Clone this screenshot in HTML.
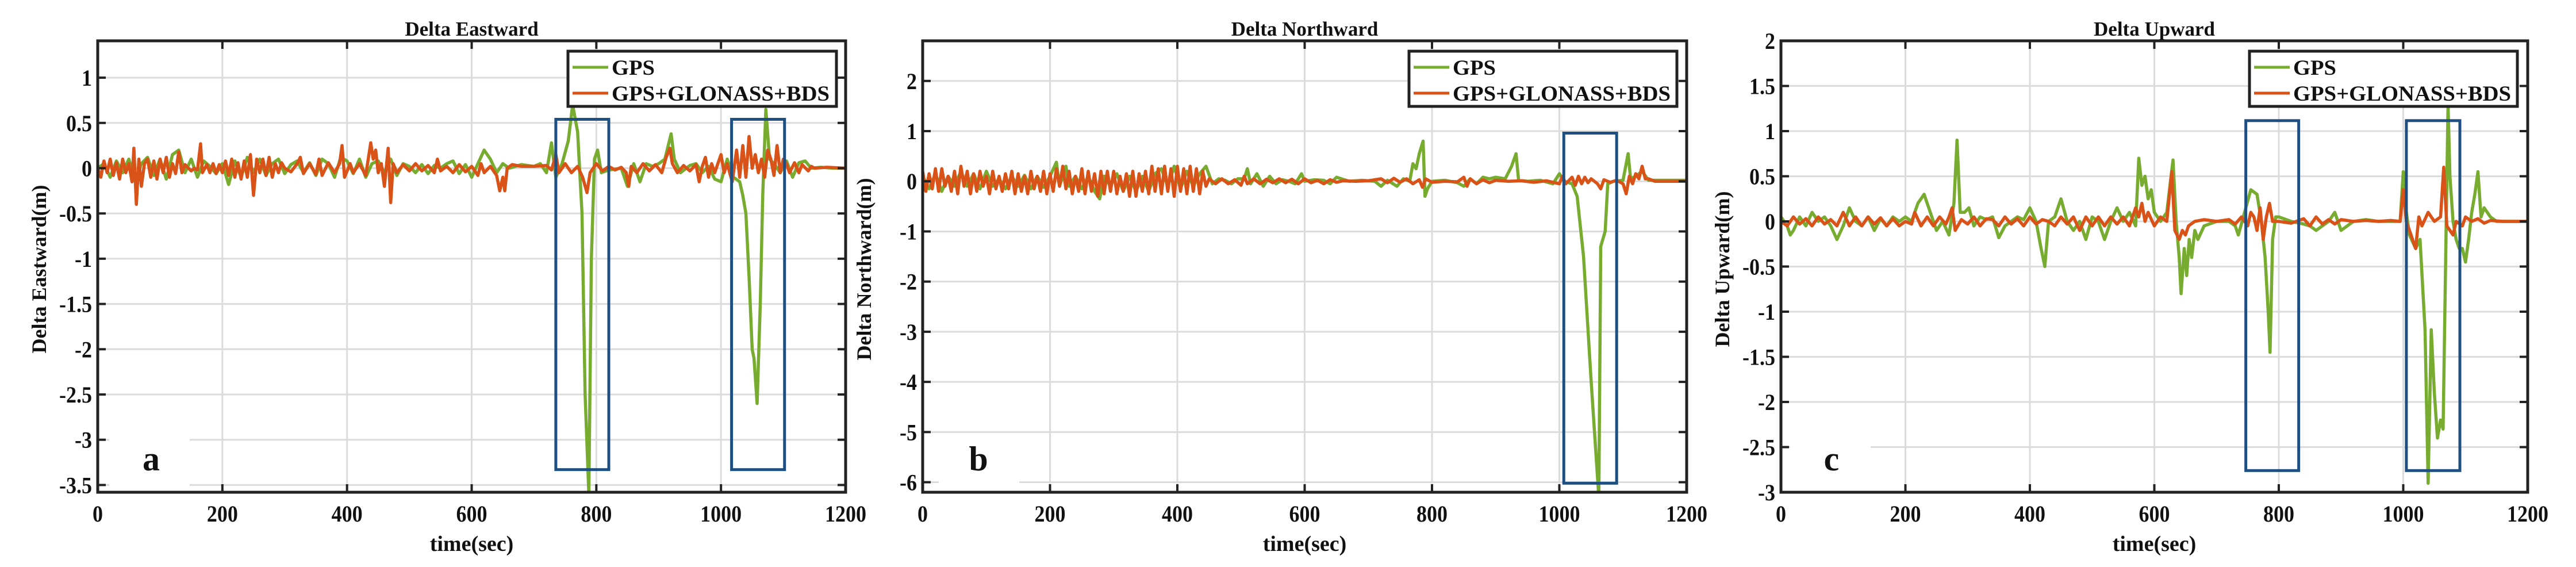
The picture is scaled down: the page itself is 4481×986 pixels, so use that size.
<!DOCTYPE html>
<html><head><meta charset="utf-8"><style>
html,body{margin:0;padding:0;background:#fff;}
svg{display:block;}
text{font-family:"Liberation Serif",serif;font-weight:bold;fill:#111;}
</style></head><body>
<svg id="fig" width="4481" height="986" viewBox="0 0 4481 986" xmlns="http://www.w3.org/2000/svg"></svg>
<script>
const xTicks=[0,200,400,600,800,1000,1200];
const yTicksA=[1,0.5,0,-0.5,-1,-1.5,-2,-2.5,-3,-3.5];
const yTicksB=[2,1,0,-1,-2,-3,-4,-5,-6];
const yTicksC=[2,1.5,1,0.5,0,-0.5,-1,-1.5,-2,-2.5,-3];
const seriesNames=["GPS","GPS+GLONASS+BDS"];

const gpsTA=[0,10,20,30,40,50,60,70,80,90,100,110,120,130,140,150,160,170,180,190,200,210,220,230,240,250,260,270,280,290,300,310,320,330,340,350,360,370,380,390,400,410,420,430,440,450,460,470,480,490,500,510,520,530,540,550,560,570,580,590,600,610,620,630,640,650,660,670,680,690,700,710,720,728,735,745,755,762,770,777,782,788,792,797,802,808,820,840,850,860,870,880,890,900,910,920,925,935,950,960,970,980,990,1000,1010,1020,1030,1035,1040,1045,1050,1053,1058,1063,1067,1072,1078,1085,1095,1105,1115,1125,1135,1145,1160,1180,1200];
const gpsVA=[0,0.05,-0.1,0.08,-0.05,0.1,-0.15,0.05,0.12,-0.08,0.1,-0.12,0.15,0.2,-0.05,0.1,-0.1,0.08,0.02,-0.06,0.05,-0.18,0.08,-0.1,0.12,-0.05,0.1,-0.08,0.05,0.1,-0.06,0.04,0.08,-0.05,0.06,-0.08,0.1,0.05,-0.1,0.12,0.08,-0.06,0.1,-0.1,0.05,0.08,-0.05,0.1,-0.08,0.05,0.02,-0.05,0.04,-0.06,0.03,0,0.05,0.08,-0.06,0.04,-0.1,0.05,0.2,0.1,-0.05,0.05,0,0.02,0.04,0.03,0.02,0.05,-0.05,0.28,-0.1,0.05,0.3,0.7,0.4,-0.5,-2.5,-3.6,-1.0,0.1,0.2,-0.05,-0.02,0,-0.2,0.05,-0.15,0.05,0.02,0.05,0.1,0.38,0.1,-0.05,0.03,0.05,-0.05,0.02,-0.12,-0.15,0.1,-0.1,-0.15,-0.3,-0.5,-1.2,-2.0,-2.1,-2.6,-1.5,-0.3,0.65,0.1,0.05,-0.05,0.08,-0.1,0.06,0.08,0,0.01,0,0];
const mixTA=[0,5,10,15,20,25,30,35,40,45,50,55,58,62,66,70,75,80,85,90,95,100,105,110,115,120,125,130,135,140,150,155,160,165,168,175,180,185,190,195,200,205,210,215,220,225,230,235,240,245,250,255,260,265,270,275,280,285,290,295,300,310,320,325,330,340,350,355,360,370,380,388,392,396,405,410,420,430,438,442,446,450,455,460,466,470,474,480,490,500,510,520,530,540,545,550,560,570,580,590,600,610,615,620,630,640,645,650,653,657,665,680,700,720,728,735,740,750,760,770,778,785,790,800,810,820,830,840,848,852,856,865,875,885,895,905,912,918,922,930,940,950,960,965,970,975,980,985,990,1000,1005,1010,1018,1025,1030,1035,1040,1045,1050,1055,1060,1065,1070,1075,1080,1085,1090,1095,1100,1105,1110,1118,1125,1130,1140,1145,1150,1170,1200];
const mixVA=[0,-0.1,0.08,-0.05,0.1,-0.08,0.06,-0.12,0.1,-0.05,0.05,-0.15,0.22,-0.4,0.1,-0.2,0.05,0.1,-0.1,0.08,-0.12,0.1,-0.05,0.12,-0.1,0.05,-0.06,0.18,-0.05,0.04,-0.03,0,-0.02,0.27,-0.05,0.04,-0.05,0.05,-0.06,0.04,-0.05,0.08,-0.08,0.1,-0.1,0.06,-0.12,0.08,-0.1,0.15,-0.3,0.1,-0.05,0.1,-0.08,0.12,-0.1,0.05,-0.05,0.06,0,-0.04,0.05,0.12,-0.06,0.05,-0.07,0.1,-0.08,0.06,-0.05,0.05,0.25,-0.1,0.05,-0.05,0.05,-0.08,0.28,0.1,0.2,-0.05,0.05,-0.2,0.22,-0.38,0.05,-0.05,0.04,-0.03,0.05,-0.03,0.03,-0.05,0.1,-0.03,0.02,-0.05,0.04,-0.04,0.02,-0.08,0.05,-0.05,0.02,-0.08,-0.25,-0.1,-0.25,0,0.04,0.02,0.02,0.03,-0.02,0.15,-0.05,0.05,-0.05,0.02,-0.1,-0.27,-0.05,0.05,-0.03,0.02,-0.02,0.01,-0.05,-0.2,0.02,-0.05,0.05,-0.03,0.04,-0.05,0.12,0.22,0.05,-0.05,0.03,-0.03,0.04,-0.15,0.02,0.12,-0.1,0.05,-0.05,0.15,-0.05,0.05,-0.15,0.2,-0.1,0.25,-0.1,0.35,0,0.15,-0.05,0.1,-0.1,0.2,0.1,-0.08,0.25,-0.05,0.1,0.05,-0.05,0.06,-0.05,0.04,-0.03,0.02,0,0.01,0];

const gpsTB=[0,10,20,30,40,50,60,70,80,90,100,110,120,130,140,150,160,170,180,190,200,210,215,225,230,240,250,260,270,278,285,295,305,315,325,335,345,355,365,375,385,395,405,415,425,435,445,455,465,475,485,495,505,510,515,525,535,545,555,565,575,585,595,600,615,630,640,650,670,690,710,720,730,745,755,765,770,775,780,786,789,793,800,820,840,850,860,870,880,890,900,915,925,932,936,950,970,990,1000,1008,1020,1028,1038,1050,1062,1065,1072,1076,1085,1100,1108,1112,1120,1130,1140,1160,1200];
const gpsVB=[0.1,-0.15,0.15,-0.2,0.1,-0.1,0.2,-0.1,0.15,-0.15,0.2,-0.1,0.05,-0.15,0.1,-0.1,0.12,-0.15,0.1,-0.12,0.1,0.38,-0.1,0.3,-0.1,0.1,-0.15,0.1,-0.2,-0.35,0.1,-0.1,0.15,-0.2,0.1,-0.2,0.1,-0.2,0.15,0.25,-0.1,0.3,-0.15,0.2,-0.1,0.15,0.3,-0.05,0.05,0.02,-0.05,0.05,0.05,0.25,-0.05,0.15,-0.1,0.1,-0.05,0.03,0,-0.05,0.15,0,0.03,0.02,-0.05,0.08,0,0.02,0,-0.1,0.02,-0.1,0.05,0,0.35,0.25,0.55,0.8,-0.3,-0.15,0,0.02,-0.03,-0.1,0.05,-0.05,0.08,0.05,0.08,0.05,0.3,0.55,0.02,0,0.02,-0.05,0.15,0,-0.05,-0.3,-1.5,-4.0,-6.3,-1.3,-1.0,-0.05,0,0.02,0.55,0.05,0.1,0.2,0.02,0.02,0.02];
const mixTB=[0,5,10,15,20,25,30,35,40,45,50,55,60,65,70,75,80,85,90,95,100,105,110,115,120,125,130,135,140,145,150,155,160,165,170,175,180,185,190,195,200,205,210,215,220,225,230,235,240,245,250,255,260,265,270,275,280,285,290,295,300,305,310,315,320,325,330,335,340,345,350,355,360,365,370,375,380,385,390,395,400,405,410,415,420,425,430,435,440,445,450,460,470,480,490,500,505,510,520,530,540,550,560,570,580,590,600,610,620,630,640,650,660,680,700,720,730,740,750,760,770,780,785,790,800,820,840,850,855,860,870,880,890,900,920,940,960,980,1000,1005,1010,1020,1025,1030,1035,1040,1045,1050,1060,1065,1070,1080,1090,1100,1105,1110,1115,1120,1125,1130,1135,1140,1150,1200];
const mixVB=[0.2,-0.2,0.15,-0.15,0.25,-0.2,0.25,-0.1,0.1,-0.2,0.2,-0.25,0.3,-0.1,0.2,-0.25,0.15,-0.2,0.2,-0.1,0.1,-0.25,0.2,-0.15,0.1,-0.2,0.15,-0.15,0.2,-0.25,0.15,-0.2,0.1,-0.25,0.2,-0.15,0.1,-0.2,0.2,-0.25,0.15,-0.2,0.25,-0.1,0.3,-0.15,0.2,-0.25,0.1,-0.2,0.25,-0.25,0.2,-0.2,0.15,-0.3,0.2,-0.25,0.2,-0.2,0.2,-0.25,0.1,-0.2,0.15,-0.3,0.2,-0.3,0.15,-0.2,0.2,-0.25,0.3,-0.2,0.25,-0.25,0.3,-0.2,0.25,-0.3,0.3,-0.2,0.25,-0.25,0.3,-0.2,0.25,-0.25,0.2,-0.1,0.05,-0.05,0.05,-0.05,0.03,-0.08,0.1,-0.05,0.05,-0.05,0.04,-0.03,0.05,-0.03,0.04,-0.05,0.05,-0.03,0.02,-0.05,0.03,-0.02,0.01,0,0.01,0.05,-0.03,0.06,-0.02,0.05,-0.05,0.03,-0.12,0.05,-0.02,0,-0.01,0.08,-0.1,0.05,-0.05,0.03,-0.03,0.02,0,0.01,-0.02,0.01,-0.05,0.1,-0.05,0.08,-0.08,0.1,-0.05,0.08,-0.03,0.05,-0.05,-0.15,0.03,-0.02,0.02,-0.05,-0.25,0.1,-0.05,0.15,0.05,0.3,0.05,0.05,0,0];

const gpsTC=[0,10,15,20,30,40,50,60,70,80,90,100,110,120,130,140,150,160,170,180,190,200,210,220,230,240,250,260,270,278,283,288,295,302,310,320,330,340,350,360,370,380,390,400,410,418,424,430,440,450,460,470,480,490,500,510,520,530,540,550,560,570,575,580,585,590,595,600,610,620,630,635,640,643,648,652,656,660,665,670,680,700,720,730,735,745,755,765,772,778,783,786,790,795,800,820,840,850,860,870,880,890,900,910,920,940,960,980,995,1000,1005,1010,1020,1027,1035,1040,1045,1050,1055,1060,1064,1068,1072,1075,1080,1085,1090,1095,1100,1105,1110,1115,1120,1125,1130,1140,1150,1200];
const gpsVC=[0.05,-0.05,-0.15,-0.1,0.05,-0.05,0.1,0,0.05,-0.05,-0.2,-0.05,0.15,0,-0.05,0.05,-0.1,0.03,-0.05,0.05,0,0.05,0,0.2,0.3,0.1,-0.1,0,-0.15,0.2,0.9,0.1,0.1,0.15,-0.05,0.05,0.02,0.05,-0.18,-0.05,0,0.05,0.02,0.15,0,-0.3,-0.5,0,0.05,0.25,0,-0.1,0,-0.2,0.05,0,-0.2,0,0.15,0,0.1,-0.05,0.7,0.4,0.5,0.25,0.35,0.1,0,0.1,0.68,0,-0.4,-0.8,-0.3,-0.6,-0.2,-0.4,-0.1,-0.2,-0.05,0,0,-0.05,-0.15,0.1,0.35,0.3,0,-0.4,-1.0,-1.45,-0.2,0.05,0.05,0,-0.03,-0.05,-0.1,-0.05,0,0.1,-0.1,-0.05,0,0.02,0,0,0,0.55,0.1,-0.15,-0.3,-0.2,-1.2,-2.9,-1.2,-1.9,-2.4,-2.2,-2.3,-0.5,1.3,0.5,0,-0.2,-0.3,-0.3,-0.45,-0.2,0.1,0.3,0.55,0.05,0.15,0.05,0,0];
const mixTC=[0,10,20,30,40,50,60,70,80,90,100,110,120,130,140,150,160,170,180,190,200,210,215,225,235,245,255,265,270,275,280,290,300,310,320,330,340,350,360,370,380,390,400,410,420,430,440,450,460,470,480,490,500,510,520,530,540,550,560,570,575,580,585,590,600,610,620,628,633,640,645,650,655,665,680,700,720,730,740,750,755,760,765,770,775,780,785,790,800,820,840,850,860,870,880,890,900,920,940,960,980,995,1000,1005,1010,1020,1025,1030,1040,1050,1060,1065,1070,1080,1085,1095,1100,1110,1120,1130,1140,1160,1200];
const mixVC=[0,-0.05,0.05,-0.03,0.03,-0.05,0.05,-0.03,0.02,-0.05,0.1,-0.05,0.05,-0.05,0.05,-0.03,0.04,-0.05,0.03,-0.05,0,-0.03,0.1,-0.05,0.05,-0.05,0.05,-0.03,0.05,0.15,-0.1,0.02,-0.03,0.05,-0.05,0.03,0.02,-0.05,0.05,-0.03,0.03,-0.05,0.05,-0.03,0.02,0,-0.05,0.05,-0.03,0.05,-0.1,0.05,-0.05,0.05,-0.05,0.05,-0.03,0.05,-0.05,0.15,0.05,0.2,0,0.1,-0.05,0.05,0,0.55,-0.1,-0.2,-0.1,-0.15,-0.05,0,0.02,0,0.02,-0.03,0.05,-0.05,0.1,0.05,-0.1,0.15,-0.2,0.05,0.2,0,0,-0.02,0.03,-0.05,0.05,-0.03,0.02,-0.03,0.02,0,0.01,0,0.01,0,0.35,0,-0.1,-0.3,0.05,-0.05,0.1,0,0.05,0.6,-0.05,-0.15,0,-0.05,0.05,0,0.03,-0.02,0.01,0,0];

const boxesA=[[735,820,0.54,-3.33],[1017,1102,0.54,-3.33]];
const boxesB=[[1007,1090,0.96,-6.02]];
const boxesC=[[747,832,1.116,-2.76],[1005,1091,1.116,-2.76]];

const panels=[
 {id:"a",title:"Delta Eastward",ylab:"Delta Eastward(m)",x0:170,w:1301,ymin:-3.58,ymax:1.407,yt:yTicksA,gt:gpsTA,gv:gpsVA,mt:mixTA,mv:mixVA,boxes:boxesA,leg:988,lw:467,lab:"a",labx:263,wb:190},
 {id:"b",title:"Delta Northward",ylab:"Delta Northward(m)",x0:1605,w:1329,ymin:-6.2,ymax:2.8,yt:yTicksB,gt:gpsTB,gv:gpsVB,mt:mixTB,mv:mixVB,boxes:boxesB,leg:2451,lw:466,lab:"b",labx:1702,wb:1633},
 {id:"c",title:"Delta Upward",ylab:"Delta Upward(m)",x0:3098,w:1299,ymin:-3,ymax:2,yt:yTicksC,gt:gpsTC,gv:gpsVC,mt:mixTC,mv:mixVC,boxes:boxesC,leg:3913,lw:466,lab:"c",labx:3186,wb:3114}
];
const NS="http://www.w3.org/2000/svg";
const svg=document.getElementById("fig");
function mk(tag,attrs,parent){const e=document.createElementNS(NS,tag);for(const k in attrs)e.setAttribute(k,attrs[k]);(parent||svg).appendChild(e);return e;}
const Y0=71,H=785;
panels.forEach(p=>{
  const g=mk("g",{});
  
  
  const sx=t=>p.x0+t/1200*p.w;
  const sy=v=>Y0+(p.ymax-v)/(p.ymax-p.ymin)*H;
  mk("rect",{x:p.x0,y:Y0,width:p.w,height:H,fill:"#fff"},g);
  xTicks.forEach(t=>{const l=mk("line",{x1:sx(t),x2:sx(t),y1:Y0,y2:Y0+H,stroke:"#dcdcdc","stroke-width":3},g);
    });
  p.yt.forEach(v=>{const l=mk("line",{x1:p.x0,x2:p.x0+p.w,y1:sy(v),y2:sy(v),stroke:"#dcdcdc","stroke-width":3},g);
    });
  const wr=mk("rect",{x:p.wb,y:760,width:140,height:92,fill:"#fff"},g);
  
  const cp=mk("clipPath",{id:"clip"+p.id},g);
  mk("rect",{x:p.x0,y:Y0,width:p.w,height:H},cp);
  const mkLine=(ts,vs,col,name)=>{
    let d="";ts.forEach((t,i)=>{d+=(i?"L":"M")+sx(t).toFixed(1)+","+sy(vs[i]).toFixed(1);});
    const pa=mk("path",{d:d,fill:"none",stroke:col,"stroke-width":5.5,"stroke-linejoin":"round","clip-path":"url(#clip"+p.id+")"},g);
    
  };
  mkLine(p.gt,p.gv,"#77ac30","gps-line");
  mkLine(p.mt,p.mv,"#d95319","gps-glonass-bds-line");
  p.boxes.forEach(b=>{
    const r=mk("rect",{x:sx(b[0]),y:sy(b[2]),width:sx(b[1])-sx(b[0]),height:sy(b[3])-sy(b[2]),fill:"none",stroke:"#1f4e80","stroke-width":5},g);
    
  });
  xTicks.forEach(t=>{
    mk("line",{x1:sx(t),x2:sx(t),y1:Y0+H,y2:Y0+H-14,stroke:"#222","stroke-width":4},g);
    mk("line",{x1:sx(t),x2:sx(t),y1:Y0,y2:Y0+14,stroke:"#222","stroke-width":4},g);
    const tx=mk("text",{x:sx(t),y:907,"font-size":40,"text-anchor":"middle",transform:"translate("+sx(t)+",0) scale(0.9,1) translate("+(-sx(t))+",0)"},g);tx.textContent=t;
    
  });
  p.yt.forEach(v=>{
    mk("line",{x1:p.x0,x2:p.x0+14,y1:sy(v),y2:sy(v),stroke:"#222","stroke-width":4},g);
    mk("line",{x1:p.x0+p.w,x2:p.x0+p.w-14,y1:sy(v),y2:sy(v),stroke:"#222","stroke-width":4},g);
    const tx=mk("text",{x:p.x0-10,y:sy(v)+14,"font-size":40,"text-anchor":"end",transform:"translate("+(p.x0-10)+",0) scale(0.9,1) translate("+(-(p.x0-10))+",0)"},g);tx.textContent=v;
    
  });
  const fr=mk("rect",{x:p.x0,y:Y0,width:p.w,height:H,fill:"none",stroke:"#222","stroke-width":5},g);
  
  const lg=mk("g",{},g);
  
  mk("rect",{x:p.leg,y:89,width:p.lw,height:96,fill:"#fff",stroke:"#222","stroke-width":5},lg);
  [["#77ac30",117],["#d95319",162]].forEach((c,i)=>{
    const ln=mk("line",{x1:p.leg+8,x2:p.leg+70,y1:c[1],y2:c[1],stroke:c[0],"stroke-width":5},lg);
    
    const tx=mk("text",{x:p.leg+76,y:c[1]+13,"font-size":37,textLength:i?379:75,lengthAdjust:"spacingAndGlyphs"},lg);
    tx.textContent=seriesNames[i];
    
  });
  const ti=mk("text",{x:p.x0+p.w/2,y:62,"font-size":35,"text-anchor":"middle"},g);ti.textContent=p.title;
  
  const xl=mk("text",{x:p.x0+p.w/2,y:958,"font-size":38,"text-anchor":"middle"},g);xl.textContent="time(sec)";
  
  const yl=mk("text",{x:0,y:0,"font-size":36,"text-anchor":"middle",transform:"translate("+(p.x0-90)+",468) rotate(-90)"},g);yl.textContent=p.ylab;
  
  const pl=mk("text",{x:p.labx,y:818,"font-size":60,"text-anchor":"middle"},g);pl.textContent=p.lab;
  
});
</script>
</body></html>
